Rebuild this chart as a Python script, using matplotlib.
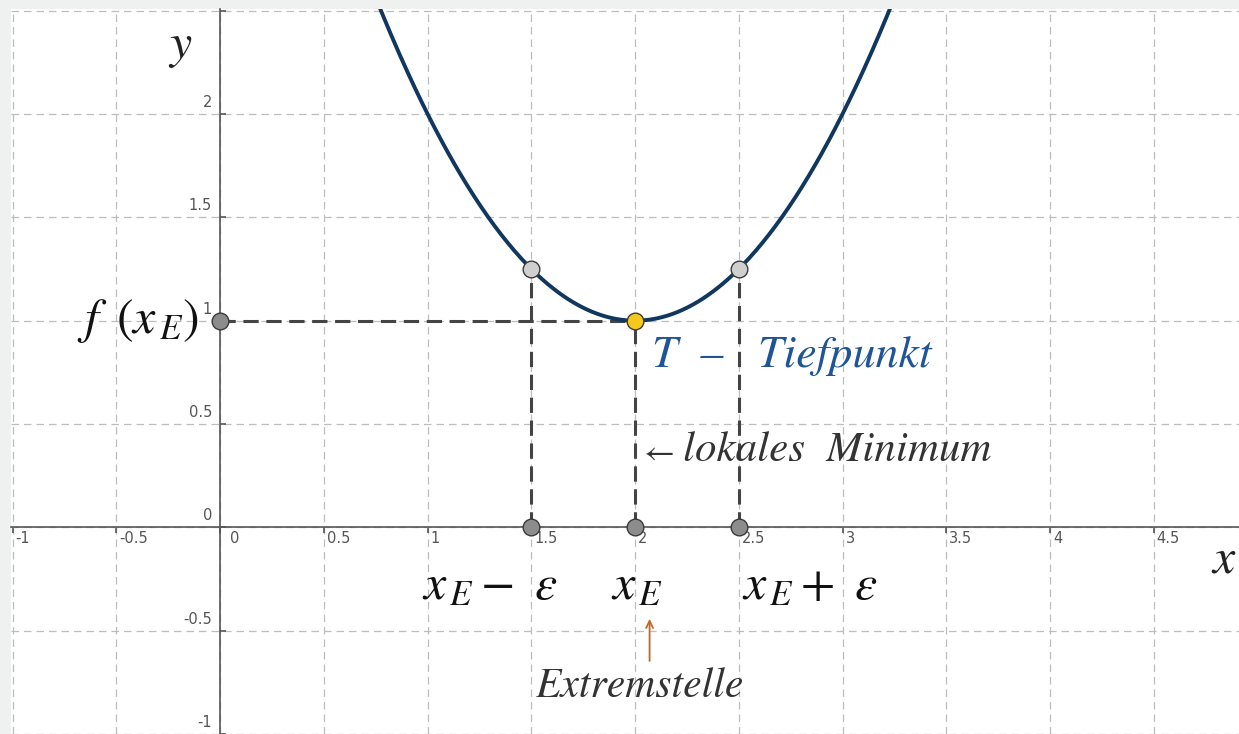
import numpy as np
import matplotlib.pyplot as plt

plt.rcParams['mathtext.fontset'] = 'stix'

# ---- data ----
# points on the curve: x_E - eps, x_E, x_E + eps
pt_x = [1.5, 2.0, 2.5]
pt_y = [1.25, 1.0, 1.25]
# extreme point and its projection onto the y axis
x_E, f_xE = 2.0, 1.0
x_ticks = [-1, -0.5, 0, 0.5, 1, 1.5, 2, 2.5, 3, 3.5, 4, 4.5]
y_ticks = [-1, -0.5, 0, 0.5, 1, 1.5, 2]
y_grid = [-1, -0.5, 0, 0.5, 1, 1.5, 2, 2.5]

# parabola through the three read points
coef = np.polyfit(pt_x, pt_y, 2)

fig = plt.figure(figsize=(12.39, 7.34), dpi=100, facecolor='#eff1f1')
ax = fig.add_axes([11 / 1239, 0, 1228 / 1239, 725 / 734])
ax.set_facecolor('white')
ax.set_xlim(-1.008, 4.911)
ax.set_ylim(-0.989, 2.508)

# grid
ax.set_xticks(x_ticks)
ax.set_yticks(y_grid)
ax.grid(True, color='#bdbdbd', lw=0.9, linestyle=(0, (6, 4)))
ax.set_axisbelow(True)

# axes through the origin
for s in ['top', 'right']:
    ax.spines[s].set_visible(False)
ax.spines['left'].set_position(('data', 0))
ax.spines['bottom'].set_position(('data', 0))
ax.spines['left'].set_color('#555555')
ax.spines['bottom'].set_color('#555555')
ax.spines['left'].set_linewidth(1.2)
ax.spines['bottom'].set_linewidth(1.2)
ax.tick_params(axis='x', direction='out', length=4, width=1.2, color='#555555', labelbottom=False)
ax.tick_params(axis='y', direction='in', length=4, width=1.2, color='#555555', labelleft=False)

# tick labels GeoGebra style
for t in x_ticks:
    lab = '%g' % t
    dx = 10 if t == 0 else 3
    ax.annotate(lab, (t, 0), xytext=(dx, -4), textcoords='offset pixels',
                ha='left', va='top', fontsize=10.5, color='#555555')
for t in y_ticks:
    lab = '%g' % t
    ax.annotate(lab, (0, t), xytext=(-8, 4), textcoords='offset pixels',
                ha='right', va='bottom', fontsize=10.5, color='#555555')

# curve
xs = np.linspace(0.4, 3.6, 400)
ax.plot(xs, np.polyval(coef, xs), color='#10375f', lw=2.8, zorder=3)

# dashed helper lines
dash = dict(color='#444444', lw=2.2, linestyle=(0, (5, 2.5)), zorder=2)
ax.plot([0, x_E], [f_xE, f_xE], **dash)
for px, py in zip(pt_x, pt_y):
    ax.plot([px, px], [0, py], **dash)

# points
ax.plot(pt_x, [0, 0, 0], 'o', ms=12, mfc='#8c8c8c', mec='#3a3a3a', mew=1, zorder=5)
ax.plot([0], [f_xE], 'o', ms=12, mfc='#8c8c8c', mec='#3a3a3a', mew=1, zorder=5)
ax.plot([pt_x[0], pt_x[2]], [pt_y[0], pt_y[2]], 'o', ms=12, mfc='#cfcfcf', mec='#3a3a3a', mew=1, zorder=5)
ax.plot([x_E], [f_xE], 'o', ms=12, mfc='#f4c81c', mec='#3a3a3a', mew=1, zorder=6)

# labels
ax.text(-0.19, 2.33, r'$y$', fontsize=36, ha='center', va='center', color='#222222')
ax.text(4.84, -0.15, r'$x$', fontsize=36, ha='center', va='center', color='#222222')
ax.text(-0.1, 1.0, r'$f\ \,(x_{\,E})$', fontsize=36, ha='right', va='center', color='#111111')
ax.text(1.30, -0.28, r'$x_{\,E}-\ \varepsilon$', fontsize=36, ha='center', va='center', color='#111111')
ax.text(2.01, -0.28, r'$x_{\,E}$', fontsize=36, ha='center', va='center', color='#111111')
ax.text(2.84, -0.28, r'$x_{\,E}+\ \varepsilon$', fontsize=36, ha='center', va='center', color='#111111')

ax.text(2.08, 0.83, 'T  \u2013   Tiefpunkt', family='STIXGeneral', style='italic',
        fontsize=33, ha='left', va='center', color='#1f5596')
ax.text(2.02, 0.37, r'$\leftarrow$', fontsize=24, ha='left', va='center', color='#333333')
ax.text(2.23, 0.37, 'lokales  Minimum', family='STIXGeneral', style='italic',
        fontsize=31, ha='left', va='center', color='#333333')
ax.text(2.02, -0.77, 'Extremstelle', family='STIXGeneral', style='italic',
        fontsize=30, ha='center', va='center', color='#333333')
ax.annotate('', xy=(2.07, -0.43), xytext=(2.07, -0.66),
            arrowprops=dict(arrowstyle='->,head_length=0.5,head_width=0.25', color='#c8641e', lw=1.3))

fig.savefig('out.png', dpi=100, facecolor=fig.get_facecolor())
